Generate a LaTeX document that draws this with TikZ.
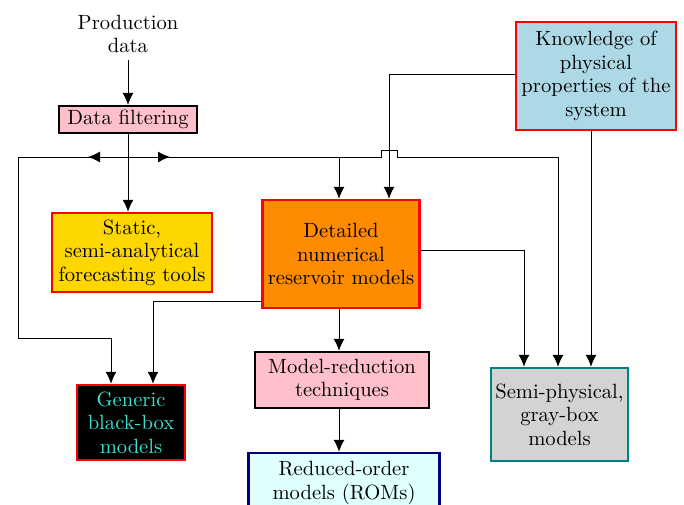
\documentclass[tikz,border=0pt]{standalone}
\usepackage{tikz}
\usetikzlibrary{arrows.meta}
\definecolor{boxred}{RGB}{255,0,0}
\definecolor{boxorange}{RGB}{255,140,0}
\definecolor{boxgold}{RGB}{255,215,0}
\definecolor{boxpink}{RGB}{255,192,203}
\definecolor{boxblue}{RGB}{173,216,230}
\definecolor{boxgray}{RGB}{211,211,211}
\definecolor{boxteal}{RGB}{0,128,128}
\definecolor{boxnavy}{RGB}{0,0,128}
\definecolor{boxcyan}{RGB}{224,255,255}
\definecolor{textturq}{RGB}{64,224,208}

\begin{document}
\begin{tikzpicture}[x=0.5pt,y=-0.5pt,font=\fontsize{10.3}{11.8}\selectfont,
	box/.style={draw,line width=1.2pt,align=center,inner sep=2pt},
	arr/.style={-{Latex[length=6pt,width=5.5pt]},line width=0.5pt},
	line/.style={line width=0.5pt}]
	\useasboundingbox (0,0) rectangle (684,504);
	% sources
	\node[align=center] (prod) at (128,34) {Production\\data};
	\node[box,fill=boxpink,minimum width=69pt,minimum height=12.5pt] (filt) at (128,119.5) {Data filtering};
	\node[box,draw=boxred,fill=boxblue,minimum width=80pt,minimum height=54pt] (know) at (596,76) {Knowledge of\\physical\\properties of the\\system};
	% models
	\node[box,draw=boxred,fill=boxgold,minimum width=80pt,minimum height=39.5pt] (stat) at (132,252.5) {Static,\\semi-analytical\\forecasting tools};
	\node[box,draw=boxred,fill=boxorange,minimum width=78.5pt,minimum height=54pt] (detail) at (341,254) {Detailed\\numerical\\reservoir models};
	\node[box,draw=boxred,fill=black,text=textturq,minimum width=54pt,minimum height=37.5pt] (gen) at (131,422.5) {Generic\\black-box\\models};
	\node[box,fill=boxpink,minimum width=87pt,minimum height=28pt] (mred) at (342,380) {Model-reduction\\techniques};
	\node[box,draw=boxteal,fill=boxgray,minimum width=68.5pt,minimum height=46.5pt] (semi) at (559.5,414.5) {Semi-physical,\\gray-box\\models};
	\node[box,draw=boxnavy,fill=boxcyan,minimum width=95.5pt,minimum height=30pt] (rom) at (344,483) {Reduced-order\\models (ROMs)};
	% connectors
	\draw[arr] (prod) -- (filt);
	\draw[arr] (filt.south) -- (filt.south |- stat.north);
	\coordinate (split) at (128,157);
	\coordinate (knee) at (339,157);
	\draw[arr] (split) -- (88,157);
	\draw[arr] (split) -- (170,157);
	\draw[arr] (split) -- (18,157) -- (18,338) -| ([xshift=-10pt]gen.north);
	\draw[arr] (split) -- (knee) -- (knee |- detail.north);
	\draw[arr] (knee) -- (381,157) -- (381,150) -- (397,150) -- (397,157) -| ([xshift=-0.75pt]semi.north);
	\draw[arr] ([yshift=1pt]know.west) -| ([xshift=24pt]detail.north);
	\draw[arr] ([xshift=-2.5pt]know.south) -- ([xshift=-2.5pt]know.south |- semi.north);
	\draw[arr] ([yshift=2pt]detail.east) -| ([xshift=-17.75pt]semi.north);
	\draw[arr] ([yshift=4pt]detail.south west) -| ([xshift=11pt]gen.north);
	\draw[arr] (detail.south -| knee) -- (knee |- mred.north);
	\draw[arr] (mred.south -| knee) -- (knee |- rom.north);
\end{tikzpicture}
\end{document}
